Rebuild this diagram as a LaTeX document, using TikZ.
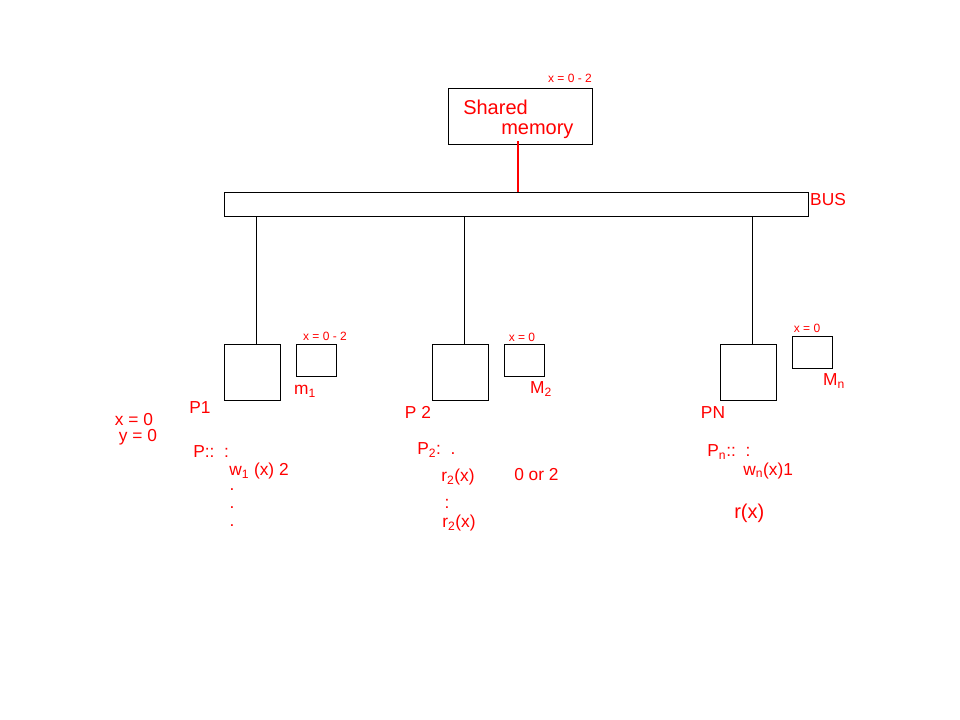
\documentclass[tikz,border=0pt]{standalone}
\usepackage{fontspec}
\setmainfont{Liberation Sans}
\begin{document}
\begin{tikzpicture}[x=0.75pt,y=0.75pt,yscale=-1,xscale=1,
  box/.style={draw, line width=0.75pt, inner sep=0pt, anchor=north west},
  hand/.style={text=red, inner sep=0.75pt, font=\fontsize{13}{15}\selectfont},
  big/.style={text=red, inner sep=0.75pt, font=\fontsize{15}{17}\selectfont},
  small/.style={text=red, inner sep=0.75pt, font=\fontsize{9}{10}\selectfont}]
\path[use as bounding box] (0,0) rectangle (960,720);

%Shape: Rectangle [id:mem]
\node[box, minimum width=108pt, minimum height=42pt] (mem) at (448,88) {};
%Shape: Rectangle [id:bus]
\node[box, minimum width=438pt, minimum height=18pt] (bus) at (224,192) {};
%Shape: Rectangle [id:p1]
\node[box, minimum width=42pt, minimum height=42pt] (p1) at (224,344) {};
%Shape: Rectangle [id:m1]
\node[box, minimum width=30pt, minimum height=24pt] (m1) at (296,344) {};
%Shape: Rectangle [id:p2]
\node[box, minimum width=42pt, minimum height=42pt] (p2) at (432,344) {};
%Shape: Rectangle [id:m2]
\node[box, minimum width=30pt, minimum height=24pt] (m2) at (504,344) {};
%Shape: Rectangle [id:pn]
\node[box, minimum width=42pt, minimum height=42pt] (pn) at (720,344) {};
%Shape: Rectangle [id:mn]
\node[box, minimum width=30pt, minimum height=24pt] (mn) at (792,336) {};

%Straight Lines [id:membus]
\draw[red, line width=1.2pt] ([xshift=-2pt,yshift=-3pt]mem.south) -- ([xshift=-2pt]mem.south |- bus.north);
%Straight Lines [id:p1bus]
\draw[line width=0.75pt] ([xshift=3pt]p1.north) -- ([xshift=3pt]p1.north |- bus.south);
%Straight Lines [id:p2bus]
\draw[line width=0.75pt] ([xshift=3pt]p2.north) -- ([xshift=3pt]p2.north |- bus.south);
%Straight Lines [id:pnbus]
\draw[line width=0.75pt] ([xshift=3pt]pn.north) -- ([xshift=3pt]pn.north |- bus.south);

% Text Node
\node[big, anchor=west] (shared) at (462,107) {Shared};
% Text Node
\node[big, anchor=west] (memory) at (500,131) {memory};
% Text Node
\node[small] (memx) at (570,78) {x = 0 - 2};
% Text Node
\node[hand] (buslbl) at (828,200) {BUS};

% Text Node
\node[small] (m1x) at (325,336) {x = 0 - 2};
% Text Node
\node[hand] (m1lbl) at (305,391) {m\textsubscript{1}};
% Text Node
\node[small] (m2x) at (522,337) {x = 0};
% Text Node
\node[hand] (m2lbl) at (541,389) {M\textsubscript{2}};
% Text Node
\node[small] (mnx) at (807,328) {x = 0};
% Text Node
\node[hand] (mnlbl) at (834,381) {M\textsubscript{n}};

% Text Node
\node[hand] (p1lbl) at (200,408) {P1};
% Text Node
\node[hand] (p2lbl) at (418,412) {P 2};
% Text Node
\node[hand] (pnlbl) at (713,413) {PN};

% Text Node
\node[hand] (xzero) at (134,420) {x = 0};
% Text Node
\node[hand] (yzero) at (138,437) {y = 0};

% Text Node
\node[hand, anchor=west] (p1prog) at (192,452) {P::\ \ :};
% Text Node
\node[hand, anchor=west] (w1) at (228,471) {w\textsubscript{1} (x) 2};
\foreach \y in {490,508,526}
  \node[hand] at (232,\y) {.};

% Text Node
\node[hand, anchor=west] (p2prog) at (416,450) {P\textsubscript{2}:\ \ .};
% Text Node
\node[hand, anchor=west] (r2a) at (440,477) {r\textsubscript{2}(x)};
% Text Node
\node[hand, anchor=west] (zortwo) at (513,475) {0 or 2};
% Text Node
\node[hand] (r2dots) at (447,504) {:};
% Text Node
\node[hand, anchor=west] (r2b) at (441,523) {r\textsubscript{2}(x)};

% Text Node
\node[hand, anchor=west] (pnprog) at (706,452) {P\textsubscript{n}::\ \ :};
% Text Node
\node[hand, anchor=west] (wn) at (742,471) {w\textsubscript{n}(x)1};
% Text Node
\node[big, anchor=west] (rx) at (733,513) {r(x)};

\end{tikzpicture}
\end{document}
